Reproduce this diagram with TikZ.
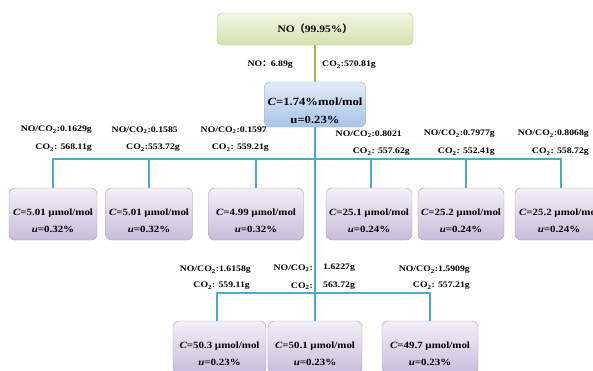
\documentclass[tikz,border=0pt]{standalone}
\usepackage{fontspec}
\setmainfont[FakeStretch=1.15]{Liberation Serif}
\newfontfamily\cjk{Noto Sans CJK SC}
\usetikzlibrary{positioning}
\usetikzlibrary{calc}
\definecolor{aqualine}{HTML}{4BACC6}
\definecolor{oliveline}{HTML}{9BBB59}
\definecolor{srctop}{HTML}{F1F6E4}
\definecolor{srcbot}{HTML}{D2E3AC}
\definecolor{srcdraw}{HTML}{B3CB83}
\definecolor{mixtop}{HTML}{E2ECF7}
\definecolor{mixbot}{HTML}{A9C4E7}
\definecolor{mixdraw}{HTML}{8DAFD9}
\definecolor{diltop}{HTML}{F3F0F7}
\definecolor{dilbot}{HTML}{C8BDDB}
\definecolor{dildraw}{HTML}{A496BE}
\newcommand{\cotwo}{CO\textsubscript{2}}
\newcommand{\twoline}[2]{\rule{0pt}{20pt}#1\\#2}
\newcommand{\conc}[2]{\twoline{\textit{C}=#1 µmol/mol}{\textit{u}=#2\%}}

\begin{document}
\begin{tikzpicture}[x=1pt,y=-1pt]
\tikzstyle{srcbox} =[rectangle,rounded corners=5pt,draw=srcdraw,top color=srctop,bottom color=srcbot,minimum width=196pt,minimum height=32pt,font=\fontsize{10}{12}\selectfont\bfseries]
\tikzstyle{mixbox} =[rectangle,rounded corners=6pt,draw=mixdraw,top color=mixtop,bottom color=mixbot,align=center,minimum width=101pt,minimum height=45pt,font=\fontsize{11}{18}\selectfont\bfseries]
\tikzstyle{dilbox} =[rectangle,rounded corners=6pt,draw=dildraw,top color=diltop,bottom color=dilbot,align=center,minimum height=52pt,inner sep=1pt,font=\fontsize{9.5}{17}\selectfont\bfseries]
\tikzstyle{tag} =[inner sep=0pt,font=\fontsize{8.5}{10}\selectfont\bfseries]
\tikzstyle{aqua} =[line width=2.5pt,draw=aqualine]
\useasboundingbox (0,0) rectangle (593,370);
\clip (0,0) rectangle (593,370);

\node[srcbox](src) at (315,29) {NO{\cjk （}99.95\%{\cjk ）}};
\node[mixbox](mix) at (315,104.5) {\twoline{\textit{C}=1.74\%mol/mol}{u=0.23\%}};
\draw[line width=2.5pt,draw=oliveline](src)--(mix);
\node[tag,anchor=east](noa) at (293,65) {NO{\cjk ：}6.89g};
\node[tag,anchor=west](coa) at (322,65) {\cotwo:570.81g};

\node[dilbox,minimum width=88pt](d1) at (53,214) {\conc{5.01}{0.32}};
\node[dilbox,minimum width=87pt](d2) at (149,214) {\conc{5.01}{0.32}};
\node[dilbox,minimum width=95pt](d3) at (256,214) {\conc{4.99}{0.32}};
\node[dilbox,minimum width=86pt](d4) at (369,214) {\conc{25.1}{0.24}};
\node[dilbox,minimum width=86pt](d5) at (461,214) {\conc{25.2}{0.24}};
\node[dilbox,minimum width=88pt](d6) at (559,214) {\conc{25.2}{0.24}};

\node[dilbox,minimum width=93pt](e1) at (219.5,347) {\conc{50.3}{0.23}};
\node[dilbox,minimum width=94pt](e2) at (315,347) {\conc{50.1}{0.23}};
\node[dilbox,minimum width=96pt](e3) at (430,347) {\conc{49.7}{0.23}};

\coordinate (j1) at (53,159);
\coordinate (j4) at (371,159);
\coordinate (j5) at (466,159);
\coordinate (j6) at (561,159);
\draw[aqua] (d1.north)--(j1)--(j6)--(j6 |- d6.north);
\draw[aqua] (d2.north)--(d2.north |- j1);
\draw[aqua] (d3.north)--(d3.north |- j1);
\draw[aqua] (j4)--(j4 |- d4.north);
\draw[aqua] (j5)--(j5 |- d5.north);

\coordinate (k1) at (217,293);
\coordinate (k3) at (430,293);
\draw[aqua] (mix)--(e2);
\draw[aqua] (k1 |- e1.north)--(k1)--(k3)--(e3.north);

\node[tag,anchor=east](n1) at (92,130) {NO/\cotwo:0.1629g};
\node[tag,anchor=east](c1) at (92,148) {\cotwo: 568.11g};
\node[tag,anchor=east](n2) at (178,130) {NO/\cotwo:0.1585};
\node[tag,anchor=east](c2) at (180,148) {\cotwo:553.72g};
\node[tag,anchor=east](n3) at (267,130) {NO/\cotwo:0.1597};
\node[tag,anchor=east](c3) at (269,148) {\cotwo: 559.21g};
\node[tag,anchor=east](n4) at (402,134) {NO/\cotwo:0.8021};
\node[tag,anchor=east](c4) at (410,152) {\cotwo: 557.62g};
\node[tag,anchor=east](n5) at (495,134) {NO/\cotwo:0.7977g};
\node[tag,anchor=east](c5) at (495,152) {\cotwo: 552.41g};
\node[tag,anchor=east](n6) at (589,134) {NO/\cotwo:0.8068g};
\node[tag,anchor=east](c6) at (589,152) {\cotwo: 558.72g};

\node[tag,anchor=east](n7) at (251,270) {NO/\cotwo:1.6158g};
\node[tag,anchor=east](c7) at (250,286) {\cotwo: 559.11g};
\node[tag,anchor=east](n8) at (313,268) {NO/\cotwo:};
\node[tag,anchor=west](v8) at (323,268) {1.6227g};
\node[tag,anchor=east](c8) at (313,286) {\cotwo:};
\node[tag,anchor=west](w8) at (323,286) {563.72g};
\node[tag,anchor=east](n9) at (470,270) {NO/\cotwo:1.5909g};
\node[tag,anchor=east](c9) at (470,286) {\cotwo: 557.21g};
\end{tikzpicture}
\end{document}
